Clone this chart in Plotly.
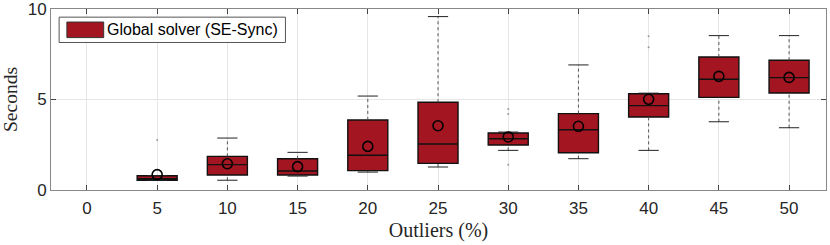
import plotly.graph_objects as go

# ---- data ----
outlier_pct = [0, 5, 10, 15, 20, 25, 30, 35, 40, 45, 50]
q1 =        [None, 0.54, 0.83, 0.83, 1.07, 1.47, 2.49, 2.06, 4.03, 5.12, 5.36]
median =    [None, 0.62, 1.40, 1.05, 1.92, 2.54, 2.83, 3.33, 4.66, 6.12, 6.21]
q3 =        [None, 0.79, 1.86, 1.73, 3.87, 4.85, 3.15, 4.22, 5.32, 7.35, 7.17]
mean =      [None, 0.85, 1.45, 1.29, 2.41, 3.55, 2.93, 3.52, 5.01, 6.28, 6.22]
whisk_lo =  [None, 0.53, 0.54, 0.77, 0.99, 1.27, 2.19, 1.73, 2.19, 3.77, 3.44]
whisk_hi =  [None, 0.80, 2.87, 2.08, 5.19, 9.58, 3.20, 6.91, 5.35, 8.53, 8.53]
outlier_x = [5, 30, 30, 30, 40, 40]
outlier_y = [2.76, 4.47, 4.20, 1.40, 8.50, 7.88]
series_name = "Global solver (SE-Sync)"
x_ticks = [0, 5, 10, 15, 20, 25, 30, 35, 40, 45, 50]
y_ticks = [0, 5, 10]

BOX_COLOR = "#A31621"
BOX_W = 2.85
CAP_HALF = 0.72

xs = [x for x, m in zip(outlier_pct, median) if m is not None]
def pick(a):
    return [v for v, m in zip(a, median) if m is not None]

fig = go.Figure()

# whiskers (dotted) and caps
wx, wy, cx, cy = [], [], [], []
for x, lo, a, b, hi in zip(xs, pick(whisk_lo), pick(q1), pick(q3), pick(whisk_hi)):
    wx += [x, x, None, x, x, None]
    wy += [lo, a, None, b, hi, None]
    cx += [x - CAP_HALF, x + CAP_HALF, None, x - CAP_HALF, x + CAP_HALF, None]
    cy += [lo, lo, None, hi, hi, None]
fig.add_trace(go.Scatter(x=wx, y=wy, mode="lines", line=dict(color="#555555", width=1, dash="dot"),
                         showlegend=False, hoverinfo="skip"))
fig.add_trace(go.Scatter(x=cx, y=cy, mode="lines", line=dict(color="#222222", width=1),
                         showlegend=False, hoverinfo="skip"))

# boxes (no built-in whiskers)
fig.add_trace(go.Box(
    x=xs, q1=pick(q1), median=pick(median), q3=pick(q3),
    lowerfence=pick(q1), upperfence=pick(q3),
    width=BOX_W, fillcolor=BOX_COLOR, line=dict(color="#111111", width=1.4),
    whiskerwidth=0, boxpoints=False, name=series_name, showlegend=False,
))

# means
fig.add_trace(go.Scatter(x=xs, y=pick(mean), mode="markers",
                         marker=dict(symbol="circle-open", size=10, color="#000000", line=dict(width=1.6)),
                         showlegend=False))
# outliers
fig.add_trace(go.Scatter(x=outlier_x, y=outlier_y, mode="markers",
                         marker=dict(symbol="circle", size=2, color="#999999"),
                         showlegend=False))

# custom legend
fig.add_shape(type="rect", xref="paper", yref="paper", x0=0.0105, x1=0.3025, y0=0.815, y1=0.955,
              line=dict(color="#555555", width=1), fillcolor="white", layer="above")
fig.add_shape(type="rect", xref="paper", yref="paper", x0=0.0205, x1=0.068, y0=0.842, y1=0.928,
              line=dict(color="#333333", width=1), fillcolor=BOX_COLOR, layer="above")
fig.add_annotation(xref="paper", yref="paper", x=0.0695, y=0.885, xanchor="left", yanchor="middle",
                   text=series_name, showarrow=False,
                   font=dict(family="Liberation Sans, Arial", size=16, color="#000000"))

axis_common = dict(showline=True, linecolor="#888888", linewidth=1, mirror="ticks",
                   ticks="inside", ticklen=5, tickcolor="#444444", automargin=False,
                   showgrid=True, gridcolor="#E6E6E6", gridwidth=1, zeroline=False,
                   ticklabeloverflow="allow",
                   tickfont=dict(family="Liberation Sans, Arial", size=17, color="#262626"))

fig.update_layout(
    width=830, height=245,
    margin=dict(l=51, r=4, t=9, b=55),
    paper_bgcolor="white", plot_bgcolor="white",
    xaxis=dict(range=[-2.56, 52.63], tickvals=x_ticks, ticktext=[str(v) for v in x_ticks],
               ticklabelstandoff=3,
               title=dict(text="Outliers (%)", standoff=5,
                          font=dict(family="Liberation Serif, Times New Roman", size=20, color="#262626")),
               **axis_common),
    yaxis=dict(range=[0, 10], tickvals=y_ticks, ticktext=[str(v) for v in y_ticks],
               title=dict(text="Seconds", standoff=5,
                          font=dict(family="Liberation Serif, Times New Roman", size=19.5, color="#262626")),
               **axis_common),
    showlegend=False,
)

fig.write_html(
    "out.html",
    config={"responsive": False, "displayModeBar": False},
    post_script="document.body.style.margin='0';document.body.style.padding='0';document.body.style.overflow='hidden';",
)
